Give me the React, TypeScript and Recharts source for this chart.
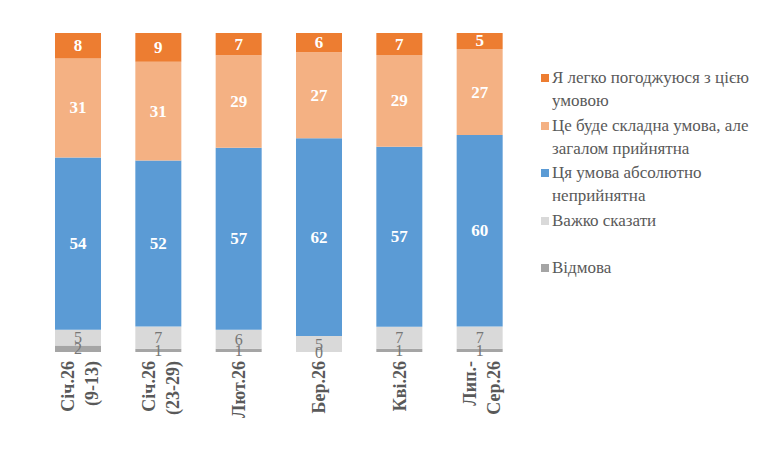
import React from 'react';
import { BarChart, Bar, XAxis, YAxis, LabelList } from 'recharts';

const categories = ['Січ.26 (9-13)', 'Січ.26 (23-29)', 'Лют.26', 'Бер.26', 'Кві.26', 'Лип.- Сер.26'];
const tickLines = [['Січ.26', '(9-13)'], ['Січ.26', '(23-29)'], ['Лют.26'], ['Бер.26'], ['Кві.26'], ['Лип.-', 'Сер.26']];

const refused = [2, 1, 1, 0, 1, 1];
const hardToSay = [5, 7, 6, 5, 7, 7];
const unacceptable = [54, 52, 57, 62, 57, 60];
const difficultButOk = [31, 31, 29, 27, 29, 27];
const easilyAgree = [8, 9, 7, 6, 7, 5];

const series = [
  { key: 'refused', name: 'Відмова', color: '#A5A5A5', values: refused, light: false },
  { key: 'hard', name: 'Важко сказати', color: '#D9D9D9', values: hardToSay, light: false },
  { key: 'unacc', name: 'Ця умова абсолютно неприйнятна', color: '#5B9BD5', values: unacceptable, light: true },
  { key: 'diff', name: 'Це буде складна умова, але загалом прийнятна', color: '#F4B183', values: difficultButOk, light: true },
  { key: 'easy', name: 'Я легко погоджуюся з цією умовою', color: '#ED7D31', values: easilyAgree, light: true },
];

const legendLines: Record<string, string[]> = {
  easy: ['Я легко погоджуюся з цією', 'умовою'],
  diff: ['Це буде складна умова, але', 'загалом прийнятна'],
  unacc: ['Ця умова абсолютно', 'неприйнятна'],
  hard: ['Важко сказати'],
  refused: ['Відмова'],
};

const data = categories.map((c, i) => {
  const row: any = { name: c, idx: i };
  series.forEach((s) => (row[s.key] = s.values[i]));
  return row;
});

const FONT = 'Liberation Serif';
const GRAY_TEXT = '#767676';

const CategoryTick = (props: any) => {
  const { x, y, index } = props;
  const lines = tickLines[index];
  const offsets = lines.length === 2 ? [-10, 14] : [0];
  return (
    <g transform={`translate(${x},${y + 1})`}>
      <text
        transform="rotate(-90)"
        textAnchor="end"
        fontFamily={FONT}
        fontWeight="bold"
        fontSize={18}
        fill="#595959"
      >
        {lines.map((l, i) => (
          <tspan key={i} x={0} y={offsets[i] + 6}>
            {l}
          </tspan>
        ))}
      </text>
    </g>
  );
};

const valueText = (cx: number, cy: number, value: number, light: boolean, key: string) => (
  <text
    key={key}
    x={cx}
    y={cy}
    textAnchor="middle"
    dominantBaseline="central"
    fontFamily={FONT}
    fontSize={light ? 17 : 16}
    fontWeight={light ? 'bold' : 'normal'}
    fill={light ? '#FFFFFF' : GRAY_TEXT}
  >
    {value}
  </text>
);

const makeLabel = (light: boolean) => (props: any) => {
  const { x, y, width, height, value } = props;
  return valueText(x + width / 2, y + height / 2, value, light, 'v');
};

// the "hard to say" label also places the refusal label just below it,
// so a zero-height refusal segment still gets its "0"
const hardLabel = (props: any) => {
  const { x, y, width, height, value, index } = props;
  const refPx = (height * refused[index]) / hardToSay[index];
  const bottom = y + height;
  return (
    <g>
      {valueText(x + width / 2, y + height / 2, value, false, 'h')}
      {valueText(x + width / 2, bottom + refPx / 2, refused[index], false, 'r')}
    </g>
  );
};

const LegendBox = () => {
  const order = ['easy', 'diff', 'unacc', 'hard', 'refused'];
  return (
    <div style={{ position: 'absolute', left: 538, top: 66, fontFamily: FONT, fontSize: 17, color: '#595959' }}>
      {order.map((k) => {
        const s = series.find((x) => x.key === k)!;
        return (
          <div key={k} style={{ position: 'relative', height: 47.5, paddingLeft: 14, lineHeight: '23px' }}>
            <span
              style={{
                position: 'absolute',
                left: 3,
                top: 8,
                width: 8,
                height: 8,
                background: s.color,
              }}
            />
            {legendLines[k].map((l, i) => (
              <div key={i} style={{ whiteSpace: 'nowrap' }}>{l}</div>
            ))}
          </div>
        );
      })}
    </div>
  );
};

export default function App() {
  return (
    <div style={{ position: 'absolute', left: 0, top: 0, width: 784, height: 449, background: '#fff' }}>
      <BarChart
        width={784}
        height={449}
        data={data}
        stackOffset="expand"
        margin={{ top: 33, right: 264, left: 38, bottom: 0 }}
      >
        <XAxis
          dataKey="name"
          axisLine={false}
          tickLine={false}
          interval={0}
          tick={<CategoryTick />}
          height={97}
        />
        <YAxis hide domain={[0, 1]} />
        {series.map((s) => (
          <Bar
            key={s.key}
            dataKey={s.key}
            name={s.name}
            stackId="a"
            fill={s.color}
            barSize={46}
            isAnimationActive={false}
          >
            {s.key === 'hard' && <LabelList dataKey={s.key} content={hardLabel} />}
            {s.light && <LabelList dataKey={s.key} content={makeLabel(true)} />}
          </Bar>
        ))}
      </BarChart>
      <LegendBox />
    </div>
  );
}
